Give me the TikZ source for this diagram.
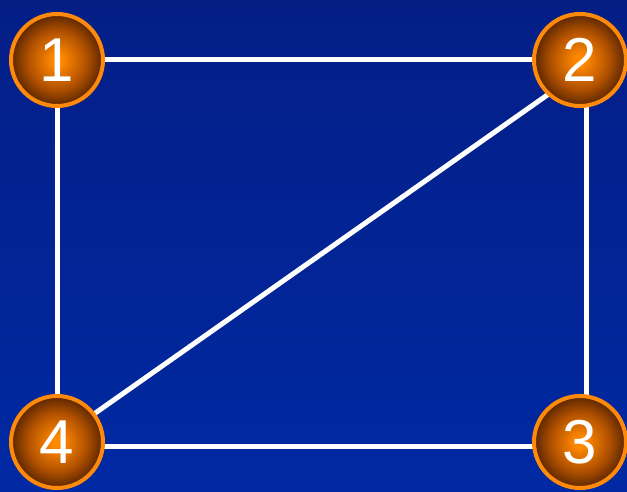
\documentclass[tikz,border=0pt]{standalone}
\usepackage{fontspec}
\setmainfont{Liberation Sans}
\definecolor{bgtop}{HTML}{041E86}
\definecolor{bgbot}{HTML}{0029A3}
\definecolor{ballin}{HTML}{FF8800}
\definecolor{ballmid}{HTML}{B05000}
\definecolor{ballout}{HTML}{5A2600}
\definecolor{ballrim}{HTML}{FF8A0A}
\pgfdeclareradialshading{ballshade}{\pgfpoint{0bp}{0bp}}{color(0bp)=(ballin); color(3bp)=(ballin); color(16bp)=(ballmid); color(25bp)=(ballout); color(50bp)=(ballout)}
\begin{document}
\begin{tikzpicture}[x=1pt,y=1pt,
  vertex/.style={circle, minimum size=92pt, inner sep=0pt, line width=4pt, draw=ballrim, shading=ballshade, text=white, font=\fontsize{62}{62}\selectfont},
  edge/.style={white, line width=5pt}]
\shade[top color=bgtop, bottom color=bgbot] (0,0) rectangle (627,491);
\useasboundingbox (0,0) rectangle (627,491);
\coordinate (p1) at (57,431);
\coordinate (p2) at (580,431);
\coordinate (p3) at (580,49);
\coordinate (p4) at (57,49);
\draw[edge] (p1) -- (p2);
\draw[edge] (p1) -- (p4);
\draw[edge] ([xshift=6pt]p2) -- ([xshift=6pt]p3);
\draw[edge] ([yshift=-4pt]p4) -- ([yshift=-4pt]p3);
\draw[edge] ([yshift=-12pt]p2) -- ([yshift=2pt]p4);
\node[vertex] (n1) at (p1) {1};
\node[vertex] (n2) at (p2) {2};
\node[vertex] (n3) at (p3) {3};
\node[vertex] (n4) at (p4) {4};
\end{tikzpicture}
\end{document}
